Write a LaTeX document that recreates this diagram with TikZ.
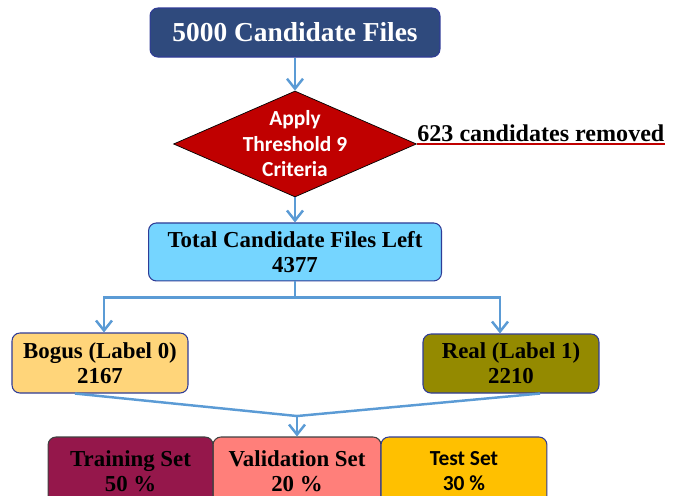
\documentclass[tikz,border=0pt]{standalone}
\usepackage{fontspec}
\setmainfont{Liberation Serif}
\newfontfamily\sansbody{Carlito}
\usetikzlibrary{shapes,arrows,arrows.meta}
\definecolor{headblue}{RGB}{47,74,125}
\definecolor{critred}{RGB}{192,0,0}
\definecolor{leftblue}{RGB}{117,213,255}
\definecolor{bogusyellow}{RGB}{255,213,122}
\definecolor{realolive}{RGB}{148,138,0}
\definecolor{trainpurple}{RGB}{149,23,75}
\definecolor{validpink}{RGB}{255,127,122}
\definecolor{testorange}{RGB}{255,192,0}
\definecolor{flowblue}{RGB}{91,155,213}
\definecolor{boxnavy}{RGB}{47,60,150}
\tikzstyle{decision} = [diamond, draw=black, fill=critred, text=white,
    aspect=2.3, inner sep=-4pt, minimum width=4.86cm, minimum height=2.12cm,
    align=center, font=\sansbody\bfseries\fontsize{12.2}{14.5}\selectfont]
\tikzstyle{block} = [rectangle, draw=boxnavy, line width=0.6pt,
    rounded corners=4.5pt, align=center,
    font=\bfseries\fontsize{13}{14.2}\selectfont]
\tikzstyle{setblock} = [block, draw=black!75, minimum width=3.32cm, minimum height=1.36cm]
\tikzstyle{line} = [draw=flowblue, line width=1.4pt, -{Straight Barb[length=2mm,width=3.2mm]}]
\tikzstyle{mergeline} = [draw=flowblue, line width=1.4pt]

\begin{document}
\begin{tikzpicture}[x=0.02cm, y=-0.02cm, node distance=2cm, auto]
    \useasboundingbox (0,0) rectangle (685,495);
    \clip (0,0) rectangle (685,495);
    % Place nodes
    \node [block, fill=headblue, text=white, minimum width=5.8cm, minimum height=0.98cm,
        font=\bfseries\fontsize{15.6}{18}\selectfont] (candidates) at (295,32.5) {5000 Candidate Files};
    \node [decision, below of=candidates, node distance=2.23cm] (threshold) {Apply\\Threshold 9\\Criteria};
    \coordinate [right of=threshold, node distance=7.4cm] (cutoff);
    \node [block, fill=leftblue, below of=threshold, node distance=2.16cm,
        minimum width=5.86cm, minimum height=1.16cm] (remaining) {Total Candidate Files Left\\4377};
    \node [block, fill=bogusyellow, minimum width=3.52cm, minimum height=1.2cm] (bogus) at (100,363) {Bogus (Label 0)\\2167};
    \node [block, fill=realolive, minimum width=3.52cm, minimum height=1.18cm] (real) at (511,363.5) {Real (Label 1)\\2210};
    \node [setblock, fill=validpink, minimum width=3.36cm] (validation) at (297,471) {Validation Set\\20 \%};
    \node [setblock, fill=trainpurple, left of=validation, node distance=3.33cm, minimum width=3.3cm] (training) {Training Set\\50 \%};
    \node [setblock, fill=testorange, draw=boxnavy, right of=validation, node distance=3.34cm,
        font=\sansbody\bfseries\fontsize{12.2}{14.5}\selectfont] (test) {Test Set\\30 \%};
    \coordinate [above of=validation, node distance=1.1cm] (merge);
    % Draw edges
    \path [line] (candidates) -- (threshold);
    \path [line] (threshold) -- (remaining);
    \draw [critred, line width=1pt] (threshold.east) -- node [above, inner sep=1pt, text=black,
        font=\bfseries\fontsize{13.7}{16}\selectfont] {623 candidates removed} (cutoff);
    \path [line] (remaining.south) -- ++(0,16) -| ([xshift=0.08cm]bogus.north);
    \path [line] (remaining.south) -- ++(0,16) -| ([xshift=-0.22cm]real.north);
    \path [mergeline] ([xshift=-0.5cm]bogus.south) -- (merge);
    \path [mergeline] ([xshift=0.58cm]real.south) -- (merge);
    \path [line] (merge) -- (validation.north);
\end{tikzpicture}
\end{document}
